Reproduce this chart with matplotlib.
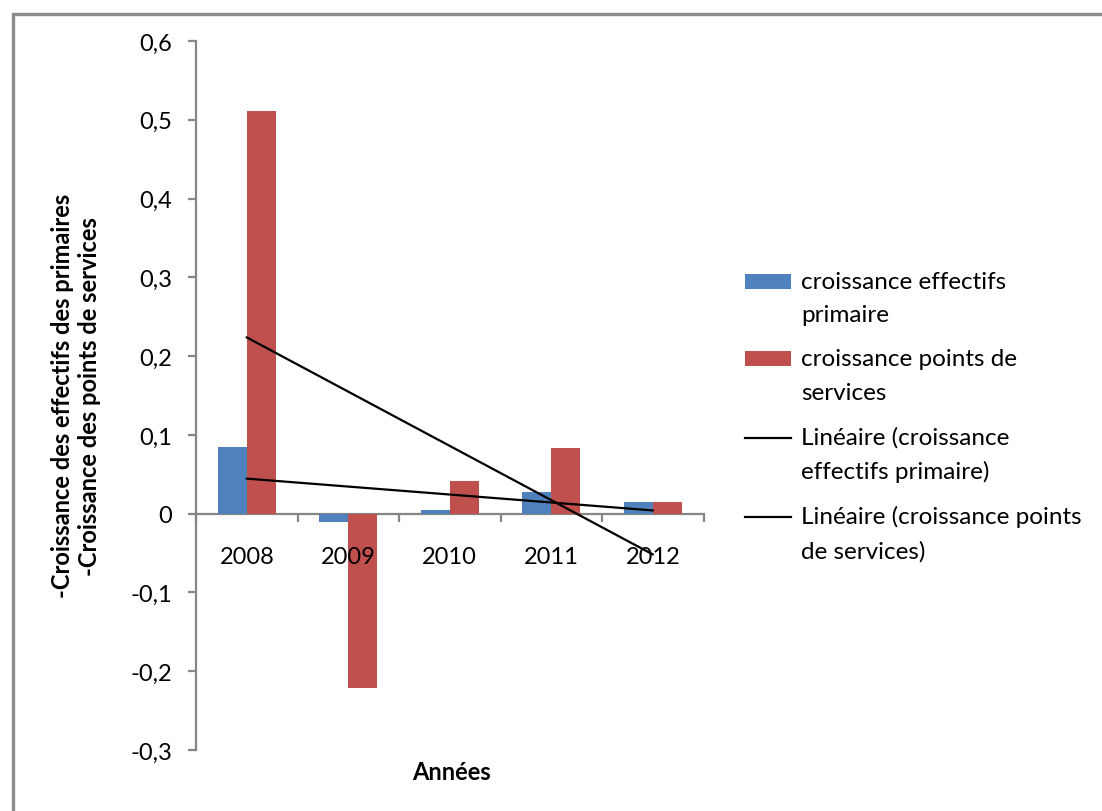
import numpy as np
import matplotlib
matplotlib.use("Agg")
import matplotlib.pyplot as plt
from matplotlib.patches import Patch, Rectangle
from matplotlib.lines import Line2D
from matplotlib.legend_handler import HandlerBase
from matplotlib.ticker import FuncFormatter, MultipleLocator

plt.rcParams['font.family'] = ['Lato', 'DejaVu Sans']

# growth rates per year
annees = ['2008', '2009', '2010', '2011', '2012']
croissance_effectifs = [0.085, -0.011, 0.0045, 0.028, 0.015]
croissance_points = [0.511, -0.221, 0.042, 0.0835, 0.0145]

BLEU = '#4F81BD'
ROUGE = '#C0504D'
GRIS = '#868686'


def virgule(v, pos):
    v = round(v, 1)
    if v == 0:
        return '0'
    return f"{v:.1f}".replace('.', ',')


class PremiereLigne(HandlerBase):
    """Legend key lined up with the first line of a two-line label."""
    decalage = 12

    def create_artists(self, legend, orig, xd, yd, w, h, fs, trans):
        s = self.decalage
        if isinstance(orig, Patch):
            art = Rectangle((-xd, -yd + s), w, h, facecolor=orig.get_facecolor(),
                            edgecolor='none')
        else:
            y = (h - yd) / 2 + s
            art = Line2D([-xd, -xd + w], [y, y], color=orig.get_color(),
                         lw=orig.get_linewidth())
        art.set_transform(trans)
        return [art]


fig = plt.figure(figsize=(11.02, 8.12), dpi=100)
ax = fig.add_axes([0.1779, 0.0751, 0.4605, 0.8732])

x = np.arange(len(annees))
w = 1 / 3.5
ax.bar(x - w / 2, croissance_effectifs, w, color=BLEU, zorder=2)
ax.bar(x + w / 2, croissance_points, w, color=ROUGE, zorder=2)

# linear trend lines like the spreadsheet ones
for serie in (croissance_effectifs, croissance_points):
    a, b = np.polyfit(x, serie, 1)
    ax.plot(x, a * x + b, color='black', lw=1.6, zorder=3)

ax.set_xlim(-0.5, len(annees) - 0.5)
ax.set_ylim(-0.3, 0.6)
ax.yaxis.set_major_locator(MultipleLocator(0.1))
ax.yaxis.set_major_formatter(FuncFormatter(virgule))

for s in ('top', 'right'):
    ax.spines[s].set_visible(False)
ax.spines['left'].set_color(GRIS)
ax.spines['left'].set_linewidth(1.6)
ax.spines['bottom'].set_color(GRIS)
ax.spines['bottom'].set_linewidth(1.6)
ax.spines['bottom'].set_position(('data', 0))
ax.spines['bottom'].set_zorder(1)

ax.set_xticks(x)
ax.set_xticklabels(annees)
ax.set_xticks(np.arange(len(annees) + 1) - 0.5, minor=True)
ax.tick_params(axis='x', which='major', length=0, pad=23, labelsize=17)
ax.tick_params(axis='x', which='minor', length=6, width=1.6, color=GRIS, direction='out')
ax.tick_params(axis='y', length=6, width=1.6, color=GRIS, pad=11, labelsize=17)
# year labels sit on top of the bars
ax.xaxis.set_zorder(4)

fig.text(0.4094, 1 - 773 / 812, 'Années', ha='center', va='center',
         fontsize=17, fontweight='bold')
fig.text(0.069, 0.512,
         '-Croissance des effectifs des primaires\n-Croissance des points de services',
         rotation=90, ha='center', va='center', multialignment='center',
         fontsize=17, fontweight='bold', linespacing=1.2)

handles = [
    Patch(facecolor=BLEU),
    Patch(facecolor=ROUGE),
    Line2D([], [], color='black', lw=1.6),
    Line2D([], [], color='black', lw=1.6),
]
labels = [
    'croissance effectifs\nprimaire',
    'croissance points de\nservices',
    'Linéaire (croissance\neffectifs primaire)',
    'Linéaire (croissance points\nde services)',
]
leg = fig.legend(handles, labels, loc='upper left', bbox_to_anchor=(0.676, 1 - 272 / 812),
                 frameon=False, fontsize=17.5, handlelength=1.9, handleheight=0.55,
                 handletextpad=0.4, labelspacing=0.95, borderpad=0, borderaxespad=0,
                 handler_map={Patch: PremiereLigne(), Line2D: PremiereLigne()})
for t in leg.get_texts():
    t.set_linespacing(1.72)

# chart frame
fig.patches.append(Rectangle((12.5 / 1102, -0.05), 1.1, 1 - 14.5 / 812 + 0.05,
                             transform=fig.transFigure, fill=False,
                             edgecolor='#8C8C8C', lw=2.4, zorder=0))

fig.savefig('out.png', dpi=100)
